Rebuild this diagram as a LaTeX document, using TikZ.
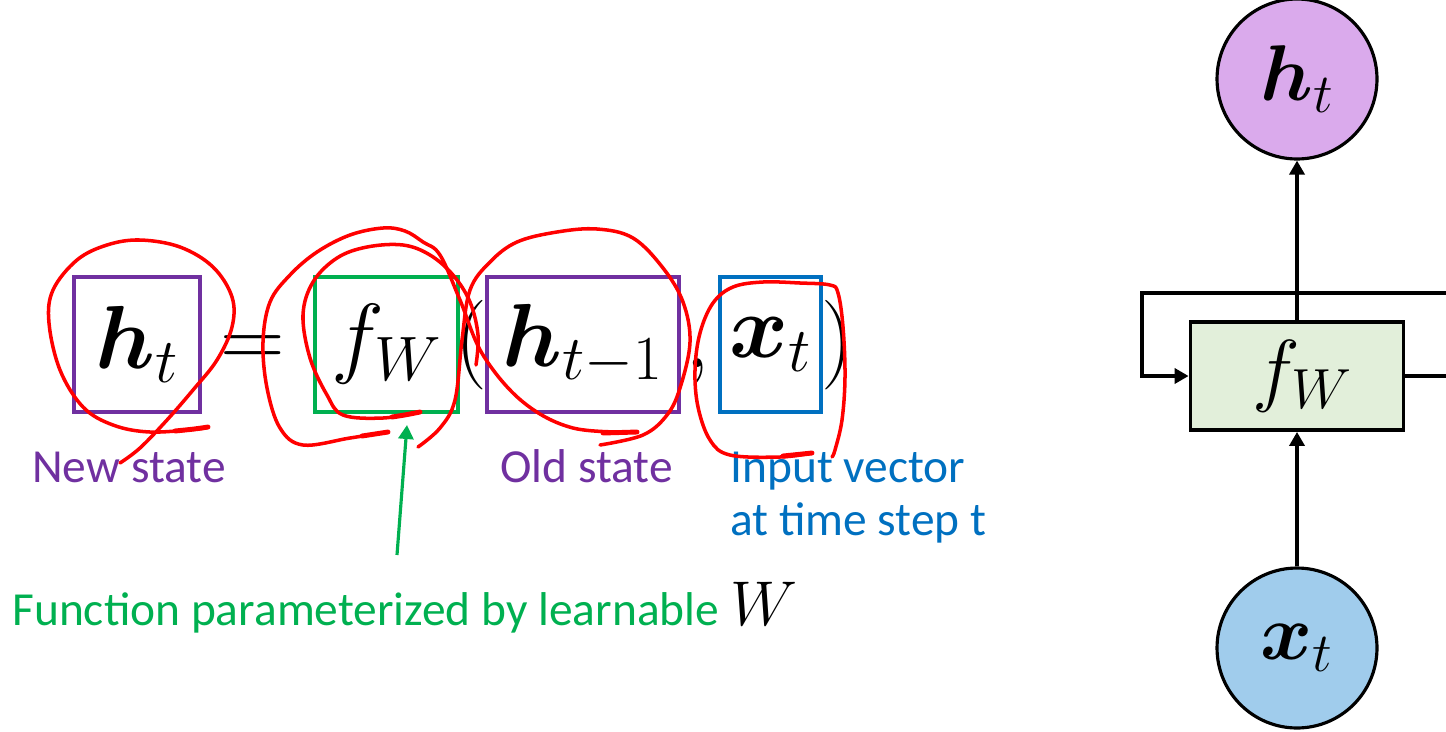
\RequirePackage{fix-cm}
\documentclass[tikz,border=0pt]{standalone}
\usepackage{fontspec}
\setmainfont{Carlito}
\usepackage{bm}
\usetikzlibrary{positioning, arrows.meta}
\definecolor{statecol}{RGB}{112, 48, 160}
\definecolor{funccol}{RGB}{0, 176, 80}
\definecolor{inpcol}{RGB}{0, 112, 192}
\definecolor{pencol}{RGB}{255, 0, 0}
\definecolor{hfill}{RGB}{218, 170, 236}
\definecolor{xfill}{RGB}{160, 204, 236}
\definecolor{ffill}{RGB}{226, 239, 218}
\tikzset{
  eqbox/.style={draw, line width=2.2pt, inner sep=0pt, minimum height=2.7cm,
                font=\fontsize{51}{60}\selectfont},
  eqsym/.style={inner sep=0pt, anchor=base, font=\fontsize{51}{60}\selectfont},
  lbl/.style={inner sep=0pt, anchor=base west, font=\fontsize{27}{30}\selectfont},
  pen/.style={draw=pencol, line width=2pt, line cap=round, line join=round},
  unit/.style={circle, draw, line width=1.8pt, minimum size=3.2cm, inner sep=0pt,
               font=\fontsize{45}{50}\selectfont},
  cell/.style={draw, line width=2.2pt, fill=ffill, minimum width=4.26cm,
               minimum height=2.16cm, font=\fontsize{46}{50}\selectfont},
  flow/.style={-{Triangle[length=2.8mm, width=3mm]}, line width=2.2pt},
}

\begin{document}
\begin{tikzpicture}[x=0.02cm, y=-0.02cm]
  \path[use as bounding box, clip] (0,0) rectangle (1446,731);

  % equation
  \node[eqbox, draw=statecol, minimum width=2.52cm] (hnew) at (137,344.5) {$\bm{h}_t$};
  \node[eqsym] (eq) at (253,367) {$=$};
  \node[eqbox, draw=funccol, minimum width=2.86cm] (fbox) at (386.5,344.5) {$f_W$};
  \node[eqsym] (lpar) at (471,367) {$($};
  \node[eqbox, draw=statecol, minimum width=3.84cm] (hold) at (583,344.5) {$\bm{h}_{t-1}$};
  \node[eqsym] (comma) at (698,367) {$,$};
  \node[eqbox, draw=inpcol, minimum width=2.02cm] (xin) at (770.5,344.5) {$\bm{x}_t$};
  \node[eqsym] (rpar) at (837,367) {$)$};

  \node[lbl, text=statecol] (newlbl) at (32,482) {New state};
  \node[lbl, text=statecol] (oldlbl) at (500,482) {Old state};
  \node[lbl, text=inpcol] (inlbl) at (730,482) {Input vector};
  \node[lbl, text=inpcol] (steplbl) at (730,535) {at time step t};
  \node[lbl, text=funccol] (funclbl) at (12,625)
    {Function parameterized by learnable {\color{black}\fontsize{36}{40}\selectfont$W$}};

  \coordinate (ftail) at (397,555);
  \coordinate (ftip) at (407,425);
  \draw[flow, funccol, line width=1.8pt] (ftail) -- (ftip);

  % pen marks
  \draw[pen] plot[smooth, tension=0.6] coordinates {(208,427) (197,429) (150,432) (113,425)
    (83,407) (60,370) (49,323) (53,290) (77,260) (107,245) (140,240) (180,247) (213,267)
    (232,297) (232,327) (217,360) (193,390) (167,420) (140,448) (120,463)};
  \draw[pen] plot[smooth, tension=0.6] coordinates {(388,432) (350,438) (303,445) (280,428)
    (267,388) (263,342) (270,302) (290,275) (317,252) (350,235) (383,228) (405,231) (423,242)
    (440,255) (460,300) (483,355) (523,402) (573,428) (637,432)};
  \draw[pen] plot[smooth, tension=0.6] coordinates {(420,412) (383,418) (343,415) (327,395)
    (310,358) (303,315) (313,282) (337,258) (367,247) (403,245) (430,255) (453,275) (470,302)
    (478,335) (476,365)};
  \draw[pen] plot[smooth, tension=0.6] coordinates {(418,447) (440,428) (455,400) (462,340)
    (470,290) (490,262) (517,242) (557,232) (597,229) (633,238) (663,268) (683,302) (690,342)
    (680,388) (667,415) (643,435) (600,445)};
  \draw[pen] plot[smooth, tension=0.6] coordinates {(812,453) (780,457) (730,455) (710,440)
    (698,407) (695,370) (700,333) (713,303) (733,287) (763,282) (800,283) (830,285) (838,293)
    (843,327) (845,377) (842,420) (835,450) (832,457)};
  \draw[pen, line width=2.8pt] (208,427) .. controls (195,429) .. (175,431);
  \draw[pen, line width=2.8pt] (388,432) .. controls (375,434) .. (362,436);
  \draw[pen, line width=2.8pt] (420,412) .. controls (405,415) .. (392,417);
  \draw[pen, line width=2.8pt] (637,432) .. controls (620,432) .. (603,433);
  \draw[pen, line width=2.8pt] (812,453) .. controls (797,455) .. (783,456);

  % recurrent cell
  \node[unit, fill=hfill] (ht) at (1297,79) {$\bm{h}_t$};
  \node[cell] (fw) at (1297,376) {\hspace{6pt}$f_W$};
  \node[unit, fill=xfill] (xt) at (1297,648) {$\bm{x}_t$};
  \coordinate (loopl) at (1142,293);
  \coordinate (loopr) at (1480,293);
  \draw[flow] (xt) -- (fw);
  \draw[flow] (fw) -- (ht);
  \draw[flow] (fw.east) -- (fw.east -| loopr) -- (loopr) -- (loopl) |- (fw.west);
\end{tikzpicture}
\end{document}
